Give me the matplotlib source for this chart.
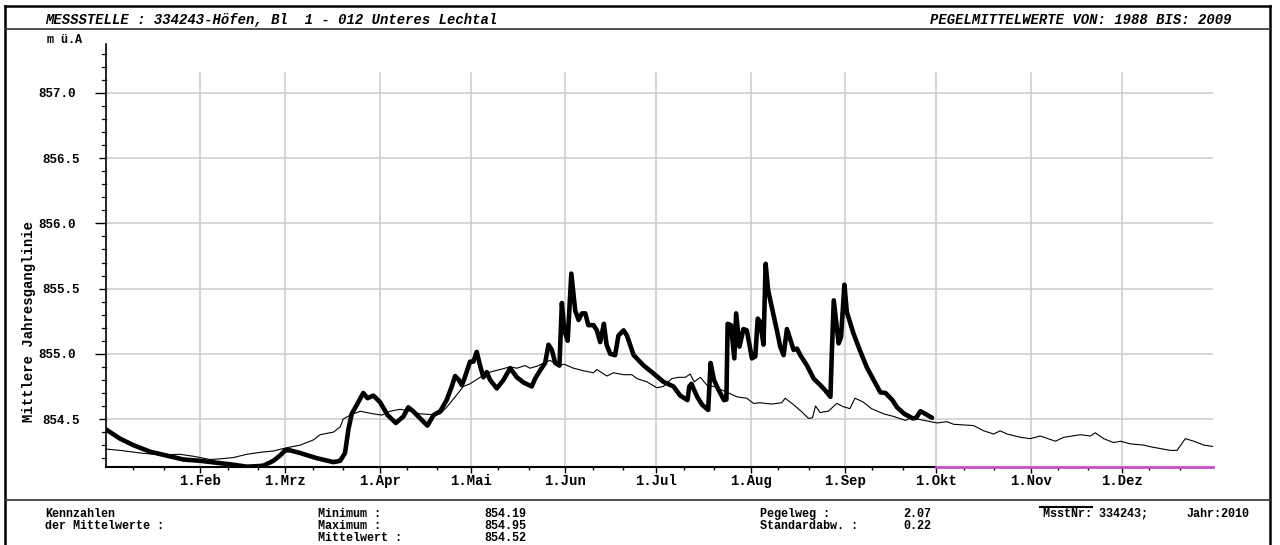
import matplotlib
matplotlib.use("Agg")
import matplotlib.pyplot as plt
from matplotlib.lines import Line2D
import numpy as np

# ---- data -------------------------------------------------------------
# day of year (1 Jan = 0) and water level [m ü.A]
days_2010 = [0, 4.6, 9, 14.5, 20, 25.4, 31, 36.4, 41.9, 46.3, 50.7, 52, 55, 57.2,
             58.9, 60.5, 63.8, 69.3, 74.8, 77, 78.6, 79.7, 80.8, 82.5, 84.6, 86,
             87.9, 90.1, 92.6, 95.3, 97.8, 99.4, 101, 103.3, 105.7, 107.7, 109.9,
             112, 113.7, 114.8, 116, 117, 118, 119.7, 120.8, 121.9, 123, 124.1,
             125.2, 126.3, 128.5, 130.7, 132.9, 135.1, 137.3, 140, 141.1, 142.8,
             144.4, 145.5, 146.6, 147.7, 149.1, 149.9, 150.7, 151.8, 153, 154.3,
             155.4, 156.5, 157.6, 158.6, 160.3, 161.4, 162.5, 163.7, 164.6, 165.8,
             167.4, 168.5, 170.2, 171.3, 173.5, 176.8, 180, 183.3, 186.6, 188.8,
             191.2, 191.8, 192.5, 194.4, 196, 198, 198.8, 199.9, 201.5, 203.2, 204,
             204.4, 205.5, 206.6, 207.2, 208.3, 209.6, 210.7, 212.4, 213.5, 214.3,
             215.1, 216.2, 216.9, 217.7, 218.9, 220.6, 221.7, 222.8, 223.9, 225,
             226.1, 227.2, 228.3, 230.5, 232.7, 234.9, 236.5, 238.2, 238.7, 239.3,
             240.9, 241.7, 242.8, 243.6, 245.8, 248, 250.2, 252.4, 254.6, 256.3,
             258.6, 260.1, 262.5, 265.3, 266.4, 267.8, 269.4, 271.6]
level_2010 = [854.42, 854.35, 854.30, 854.25, 854.22, 854.19, 854.18, 854.165,
              854.15, 854.135, 854.14, 854.145, 854.18, 854.22, 854.26, 854.26,
              854.24, 854.20, 854.17, 854.18, 854.24, 854.42, 854.54, 854.61,
              854.70, 854.66, 854.68, 854.63, 854.53, 854.47, 854.52, 854.59,
              854.56, 854.505, 854.45, 854.53, 854.56, 854.645, 854.75, 854.83,
              854.80, 854.76, 854.82, 854.94, 854.94, 855.015, 854.91, 854.82,
              854.86, 854.80, 854.735, 854.80, 854.89, 854.82, 854.78, 854.75,
              854.81, 854.875, 854.93, 855.07, 855.03, 854.93, 854.91, 855.39,
              855.18, 855.10, 855.615, 855.33, 855.26, 855.31, 855.31, 855.22,
              855.22, 855.18, 855.09, 855.23, 855.07, 855.00, 854.99, 855.14,
              855.18, 855.14, 854.99, 854.91, 854.85, 854.785, 854.75, 854.68,
              854.645, 854.75, 854.77, 854.67, 854.61, 854.57, 854.93, 854.80,
              854.72, 854.645, 854.65, 855.23, 855.22, 854.965, 855.31, 855.055,
              855.19, 855.18, 854.965, 854.98, 855.27, 855.245, 855.07, 855.69,
              855.49, 855.36, 855.18, 855.055, 854.99, 855.19, 855.11, 855.03,
              855.04, 854.99, 854.91, 854.81, 854.76, 854.72, 854.67, 855.03,
              855.41, 855.08, 855.13, 855.53, 855.32, 855.155, 855.02, 854.895,
              854.80, 854.705, 854.70, 854.645, 854.59, 854.54, 854.505, 854.51,
              854.56, 854.54, 854.51]

days_mean = [0, 4.6, 11.2, 17.8, 24.3, 28.7, 31, 34.2, 37.5, 41.9, 46.3, 50.7, 55,
             59.4, 63.8, 68.2, 70.4, 74.8, 77, 78, 80.3, 83.6, 87.9, 90.7, 93.4,
             96.7, 100, 103.3, 106.6, 109.9, 112, 114.8, 117.5, 119.7, 123, 126.3,
             129.6, 132.9, 135.1, 137.8, 139.4, 141.7, 146, 148.8, 150.7, 153.7,
             157, 160.3, 161.4, 164.7, 166.9, 170.2, 172.9, 174.6, 177.9, 181.1,
             183.3, 186, 188.3, 190.5, 192.1, 193.4, 195.4, 197.6, 199.8, 204.7,
             207.5, 210.7, 212.9, 215.1, 218.9, 222.2, 223.3, 226.1, 228.8, 231,
             232.3, 233.3, 234.8, 237.5, 240.3, 242.4, 244.6, 246.3, 249, 251.7,
             255.7, 259, 262.8, 265, 268.9, 273.3, 276.5, 278.7, 282, 285.3, 288.6,
             291.9, 294, 296.3, 300.7, 303.9, 307.2, 312.2, 314.9, 320.4, 323.7,
             325.3, 328, 331.3, 333.6, 336.8, 341.2, 344, 350, 352.2, 354.9, 357.7,
             361, 364]
level_mean = [854.27, 854.26, 854.24, 854.225, 854.23, 854.215, 854.205, 854.19,
              854.195, 854.205, 854.23, 854.245, 854.255, 854.28, 854.30, 854.34,
              854.38, 854.40, 854.44, 854.50, 854.53, 854.56, 854.54, 854.53,
              854.56, 854.575, 854.56, 854.54, 854.535, 854.54, 854.59, 854.67,
              854.75, 854.77, 854.82, 854.86, 854.88, 854.90, 854.89, 854.91,
              854.89, 854.905, 854.95, 854.91, 854.92, 854.89, 854.87, 854.855,
              854.88, 854.83, 854.855, 854.84, 854.84, 854.81, 854.785, 854.74,
              854.75, 854.81, 854.82, 854.82, 854.845, 854.785, 854.82, 854.76,
              854.75, 854.70, 854.67, 854.66, 854.62, 854.625, 854.615, 854.625,
              854.66, 854.61, 854.555, 854.505, 854.51, 854.60, 854.55, 854.56,
              854.62, 854.595, 854.58, 854.66, 854.63, 854.58, 854.54, 854.52,
              854.49, 854.51, 854.49, 854.47, 854.48, 854.46, 854.455, 854.45,
              854.41, 854.385, 854.41, 854.385, 854.36, 854.35, 854.37, 854.33,
              854.36, 854.38, 854.37, 854.395, 854.35, 854.32, 854.33, 854.31,
              854.30, 854.285, 854.26, 854.26, 854.35, 854.33, 854.30, 854.29]

month_starts = [31, 59, 90, 120, 151, 181, 212, 243, 273, 304, 334]
month_labels = ["1.Feb", "1.Mrz", "1.Apr", "1.Mai", "1.Jun", "1.Jul", "1.Aug",
                "1.Sep", "1.Okt", "1.Nov", "1.Dez"]
ytick_values = [854.5, 855.0, 855.5, 856.0, 856.5, 857.0]

# ---- figure layout ----------------------------------------------------
W, H = 1280, 545
fig = plt.figure(figsize=(W / 100, H / 100), dpi=100)
FONT = "Liberation Mono"


def fx(px):
    return px / W


def fy(py):
    return 1 - py / H


ax = fig.add_axes([fx(106), fy(467), fx(1213) - fx(106), fy(44) - fy(467)])
X0, X1 = 0, 364
Y0, Y1 = 854.1325, 857.375
ax.set_xlim(X0, X1)
ax.set_ylim(Y0, Y1)
ax.patch.set_visible(False)

for s in ("top", "right", "bottom"):
    ax.spines[s].set_visible(False)
ax.spines["left"].set_linewidth(1.2)

grid_col = "#cccccc"
for v in ytick_values:
    ax.axhline(v, color=grid_col, lw=1.1, zorder=0)
for m in month_starts:
    ax.plot([m, m], [Y0, 857.15], color=grid_col, lw=1.1, zorder=0)

# bottom axis line: black up to October, magenta afterwards
ax.plot([X0, 273], [Y0, Y0], color="black", lw=1.5, clip_on=False, zorder=3)
ax.plot([273, X1], [Y0, Y0], color="#c84bc8", lw=2.0, clip_on=False, zorder=3)

# y ticks: whole metres long, half metres medium, tenths short
ax.set_yticks([855.0, 856.0, 857.0])
ax.set_yticklabels(["855.0", "856.0", "857.0"])
ax.set_yticks([854.5, 855.5, 856.5], minor=True)
ax.set_yticklabels(["854.5", "855.5", "856.5"], minor=True)
ax.tick_params(axis="y", which="major", length=8, width=1, pad=14,
               labelsize=9)
ax.tick_params(axis="y", which="minor", length=5, width=1, pad=14,
               labelsize=9)
for lab in ax.get_yticklabels(which="both"):
    lab.set_fontfamily(FONT)
    lab.set_fontweight("bold")
ytrans = ax.get_yaxis_transform()
tenths = np.round(np.arange(854.2, 857.35, 0.1), 1)
for t in tenths:
    if abs(t * 2 - round(t * 2)) < 1e-6:
        continue
    ax.add_line(Line2D([-4 / 1107, 0], [t, t], transform=ytrans, color="black",
                       lw=0.9, clip_on=False))

# x ticks: month starts labelled, 10th and 20th of each month short
ax.set_xticks(month_starts)
ax.set_xticklabels(month_labels)
minor_days = []
for s in [0] + month_starts:
    minor_days += [s + 9, s + 19]
ax.set_xticks(minor_days, minor=True)
ax.tick_params(axis="x", which="major", length=4, width=1, pad=9, labelsize=10)
ax.tick_params(axis="x", which="minor", length=2.5, width=1)
for lab in ax.get_xticklabels():
    lab.set_fontfamily(FONT)
    lab.set_fontweight("bold")
    lab.set_verticalalignment("baseline")

# series
ax.plot(days_mean, level_mean, color="black", lw=0.8, zorder=4)
ax.plot(days_2010, level_2010, color="black", lw=3.3, zorder=5,
        solid_joinstyle="round", solid_capstyle="round")

# ---- page frame and annotations ------------------------------------------
frame_kw = dict(color="black", lw=1.8, transform=fig.transFigure)
fig.add_artist(Line2D([fx(5), fx(5)], [fy(6), fy(545)], **frame_kw))
fig.add_artist(Line2D([fx(1270), fx(1270)], [fy(6), fy(545)], **frame_kw))
fig.add_artist(Line2D([fx(5), fx(1270)], [fy(6), fy(6)], **frame_kw))
sep_kw = dict(color="#333333", lw=1.2, transform=fig.transFigure)
fig.add_artist(Line2D([fx(5), fx(1270)], [fy(29), fy(29)], **sep_kw))
fig.add_artist(Line2D([fx(5), fx(1270)], [fy(500), fy(500)], **sep_kw))

head = dict(fontfamily=FONT, fontweight="bold", fontstyle="italic",
            fontsize=10, va="center")
fig.text(fx(45), fy(20), "MESSSTELLE : 334243-Höfen, Bl  1 - 012 Unteres Lechtal",
         ha="left", **head)
fig.text(fx(1231), fy(20), "PEGELMITTELWERTE VON: 1988 BIS: 2009",
         ha="right", **head)

fig.text(fx(47), fy(40), "m ü.A", fontfamily=FONT, fontweight="bold",
         fontsize=8.5, ha="left", va="center")
fig.text(fx(29), fy(322), "Mittlere Jahresganglinie", fontfamily=FONT,
         fontweight="bold", fontsize=10, rotation=90, ha="center", va="center")

foot = dict(fontfamily=FONT, fontweight="bold", fontsize=8.5, ha="left",
            va="center")
rows = [514, 526, 538]
fig.text(fx(45), fy(rows[0]), "Kennzahlen", **foot)
fig.text(fx(45), fy(rows[1]), "der Mittelwerte :", **foot)
fig.text(fx(318), fy(rows[0]), "Minimum :", **foot)
fig.text(fx(318), fy(rows[1]), "Maximum :", **foot)
fig.text(fx(318), fy(rows[2]), "Mittelwert :", **foot)
fig.text(fx(484), fy(rows[0]), "854.19", **foot)
fig.text(fx(484), fy(rows[1]), "854.95", **foot)
fig.text(fx(484), fy(rows[2]), "854.52", **foot)
fig.text(fx(760), fy(rows[0]), "Pegelweg :", **foot)
fig.text(fx(760), fy(rows[1]), "Standardabw. :", **foot)
fig.text(fx(903), fy(rows[0]), "2.07", **foot)
fig.text(fx(903), fy(rows[1]), "0.22", **foot)
fig.text(fx(1043), fy(rows[0]), "MsstNr: 334243;", **foot)
fig.text(fx(1186), fy(rows[0]), "Jahr:2010", **foot)
fig.add_artist(Line2D([fx(1040), fx(1092)], [fy(507), fy(507)], color="black",
                      lw=1.5, transform=fig.transFigure))

fig.savefig("out.png", dpi=100)
